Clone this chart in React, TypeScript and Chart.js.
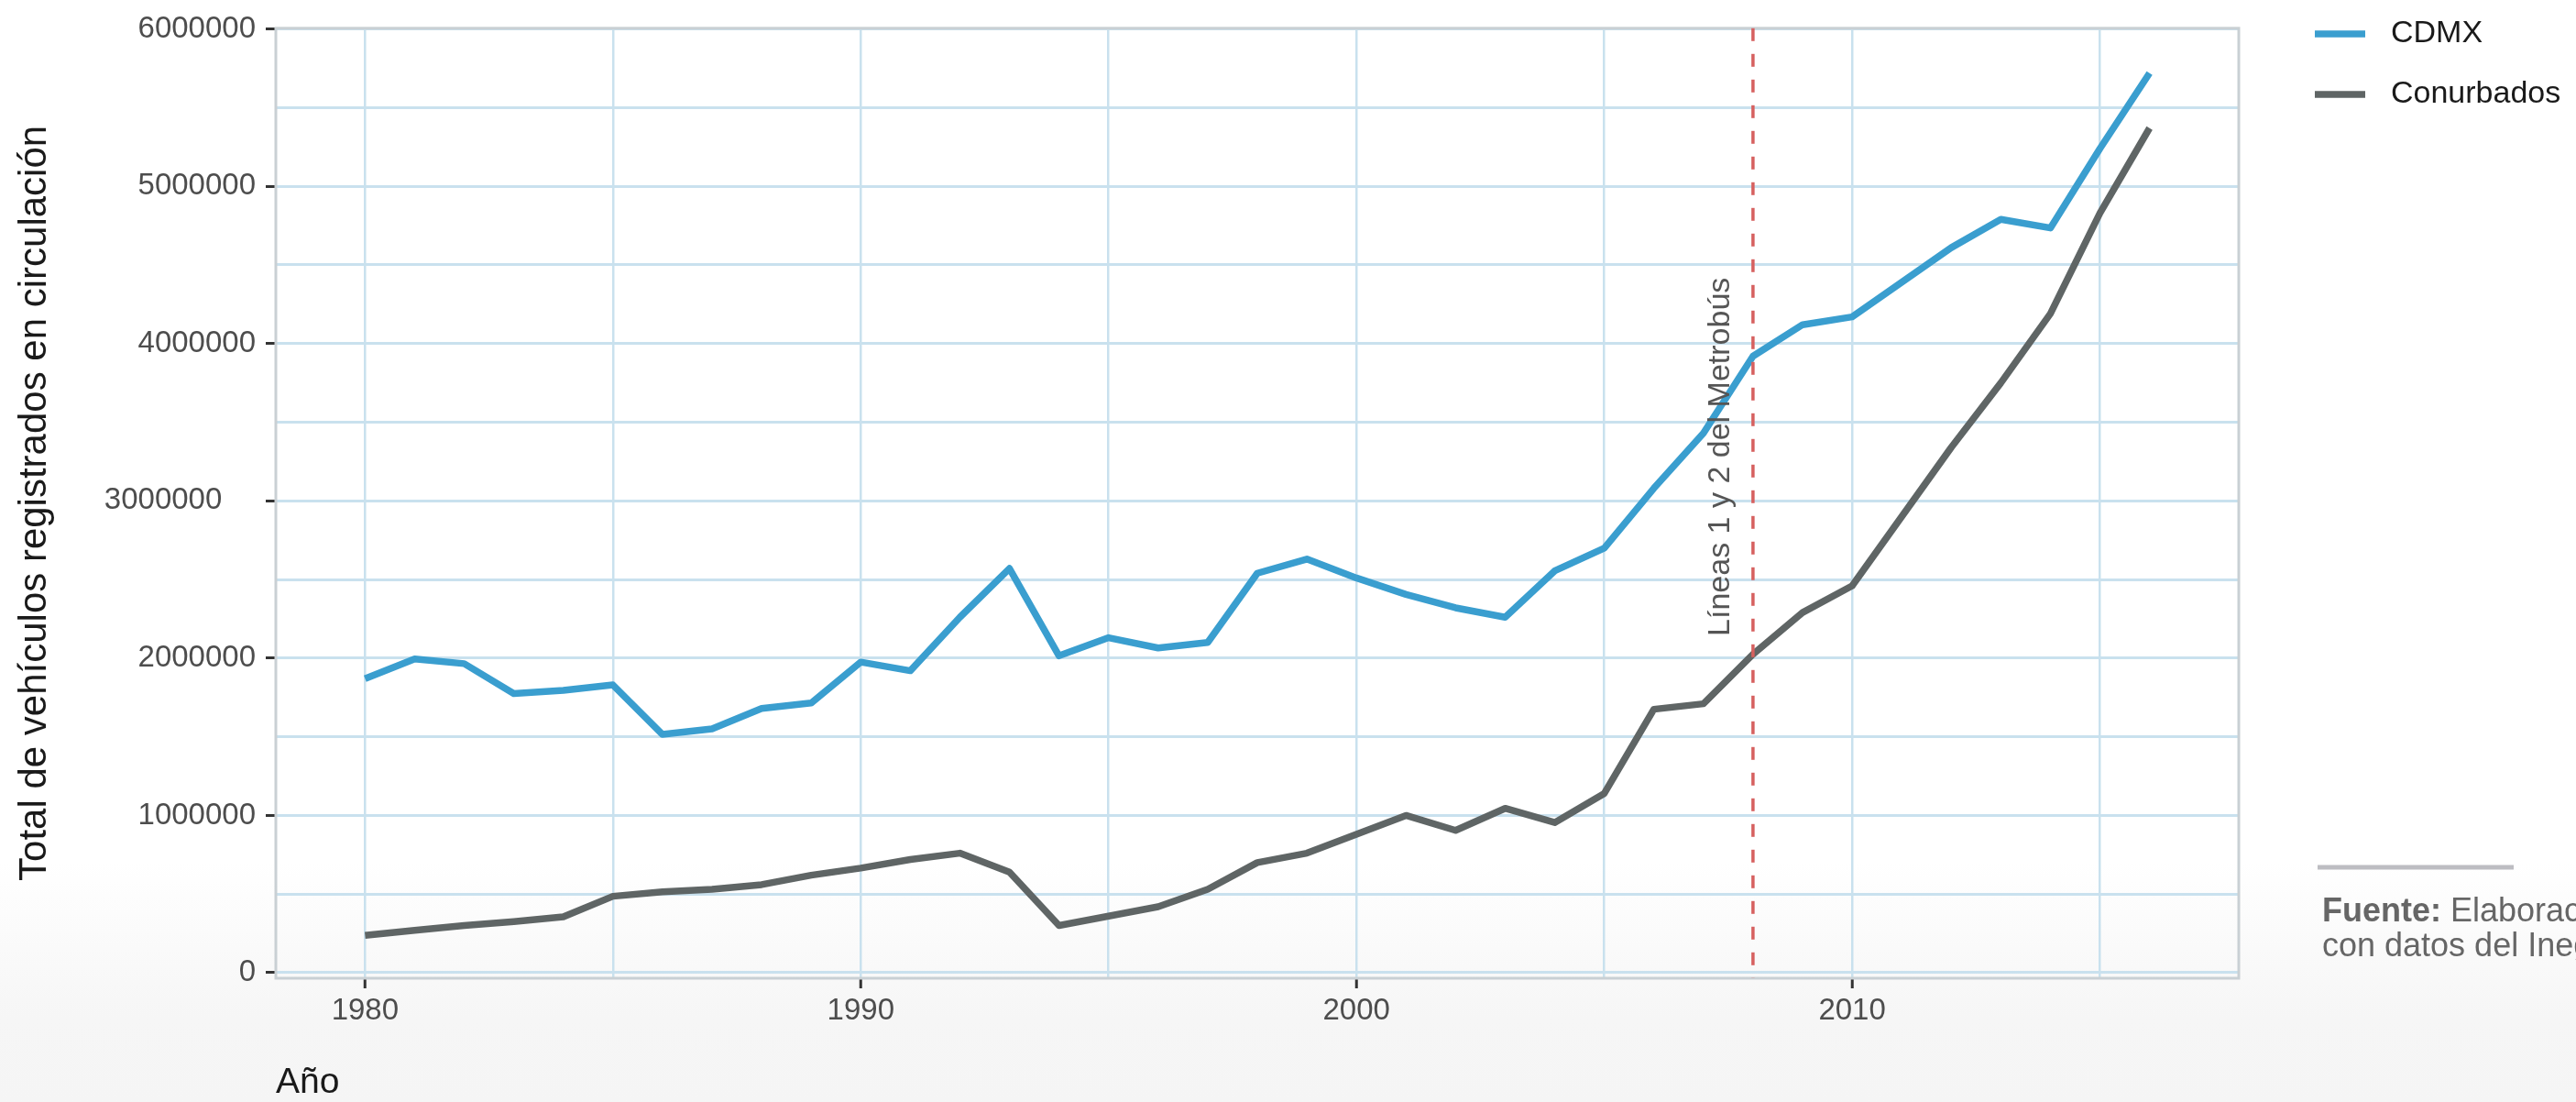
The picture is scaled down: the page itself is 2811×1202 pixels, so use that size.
import React, { useEffect, useRef } from 'react';
import { Chart, registerables } from 'chart.js';

Chart.register(...registerables);

// ---------- data ----------
const years = [
  1980, 1981, 1982, 1983, 1984, 1985, 1986, 1987, 1988, 1989,
  1990, 1991, 1992, 1993, 1994, 1995, 1996, 1997, 1998, 1999,
  2000, 2001, 2002, 2003, 2004, 2005, 2006, 2007, 2008, 2009,
  2010, 2011, 2012, 2013, 2014, 2015, 2016,
];

const cdmx = [
  1870000, 1995000, 1965000, 1775000, 1795000, 1830000, 1515000, 1550000, 1680000, 1715000,
  1975000, 1920000, 2260000, 2570000, 2015000, 2130000, 2065000, 2100000, 2540000, 2630000,
  2510000, 2405000, 2320000, 2260000, 2555000, 2700000, 3080000, 3430000, 3920000, 4120000,
  4170000, 4390000, 4610000, 4790000, 4735000, 5240000, 5720000,
];

const conurbados = [
  237000, 270000, 300000, 325000, 356000, 486000, 515000, 530000, 560000, 620000,
  665000, 720000, 760000, 640000, 300000, 360000, 420000, 530000, 700000, 760000,
  880000, 1000000, 905000, 1045000, 955000, 1140000, 1675000, 1710000, 2025000, 2290000,
  2460000, 2900000, 3340000, 3750000, 4190000, 4830000, 5370000,
];

const seriesNames = ['CDMX', 'Conurbados'];

const xGridYears = [1980, 1985, 1990, 1995, 2000, 2005, 2010, 2015];
const xTickYears = [1980, 1990, 2000, 2010];
const xTickLabels = ['1980', '1990', '2000', '2010'];

const yGridValues = [
  0, 500000, 1000000, 1500000, 2000000, 2500000, 3000000,
  3500000, 4000000, 4500000, 5000000, 5500000, 6000000,
];
const yTickValues = [0, 1000000, 2000000, 3000000, 4000000, 5000000, 6000000];
const yTickLabels = ['0', '1000000', '2000000', '3000000    ', '4000000', '5000000', '6000000'];

const xTitle = 'Año';
const yTitle = 'Total de vehículos registrados en circulación';

const metrobusYear = 2008;
const annotationText = 'Líneas 1 y 2 del Metrobús';
const annotationX = 2007.35;
const annotationY = 3280000;

const captionBold = 'Fuente:';
const captionLine1 = ' Elaboración propia';
const captionLine2 = 'con datos del Inegi.';

// ---------- styles ----------
const FONT = '"Liberation Sans", Arial, Helvetica, sans-serif';
const BLUE = '#3a9ecf';
const GRAY = '#5f6565';
const GRID = '#c9e1ee';
const LINE_W = 7.5;

const overlayPlugin = {
  id: 'overlayPlugin',
  beforeDatasetsDraw(chart: any) {
    const { ctx, chartArea: a } = chart;
    ctx.save();
    ctx.strokeStyle = '#c9d0d4';
    ctx.lineWidth = 3;
    ctx.strokeRect(a.left, a.top, a.right - a.left, a.bottom - a.top);
    ctx.restore();
  },
  afterDatasetsDraw(chart: any) {
    const { ctx, chartArea: a, scales } = chart;
    const xs = scales.x;
    const ys = scales.y;
    const px = xs.getPixelForValue(metrobusYear);
    ctx.save();
    ctx.strokeStyle = '#d6605f';
    ctx.lineWidth = 3.5;
    ctx.setLineDash([14, 14]);
    ctx.beginPath();
    ctx.moveTo(px, a.top);
    ctx.lineTo(px, a.bottom);
    ctx.stroke();
    ctx.setLineDash([]);
    ctx.translate(xs.getPixelForValue(annotationX), ys.getPixelForValue(annotationY));
    ctx.rotate(-Math.PI / 2);
    ctx.font = `34px ${FONT}`;
    ctx.fillStyle = '#555555';
    ctx.textAlign = 'center';
    ctx.textBaseline = 'middle';
    ctx.fillText(annotationText, 0, 0);
    ctx.restore();
  },
  afterDraw(chart: any) {
    const { ctx, chartArea: a } = chart;
    const colors = [BLUE, GRAY];
    ctx.save();
    // legend
    seriesNames.forEach((name, i) => {
      const yy = 37 + i * 66;
      ctx.strokeStyle = colors[i];
      ctx.lineWidth = LINE_W;
      ctx.lineCap = 'butt';
      ctx.beginPath();
      ctx.moveTo(a.right + 83, yy);
      ctx.lineTo(a.right + 138, yy);
      ctx.stroke();
      ctx.font = `34px ${FONT}`;
      ctx.fillStyle = '#1a1a1a';
      ctx.textAlign = 'left';
      ctx.textBaseline = 'middle';
      ctx.fillText(name, a.right + 166, yy);
    });
    // caption
    ctx.strokeStyle = '#bdbdc2';
    ctx.lineWidth = 5;
    ctx.beginPath();
    ctx.moveTo(a.right + 86, 946);
    ctx.lineTo(a.right + 300, 946);
    ctx.stroke();
    ctx.textAlign = 'left';
    ctx.textBaseline = 'alphabetic';
    ctx.fillStyle = '#666666';
    ctx.font = `bold 36px ${FONT}`;
    const x0 = a.right + 91;
    ctx.fillText(captionBold, x0, 1005);
    const w = ctx.measureText(captionBold).width;
    ctx.font = `36px ${FONT}`;
    ctx.fillText(captionLine1, x0 + w, 1005);
    ctx.fillText(captionLine2, x0, 1043);
    ctx.restore();
  },
};

export default function App() {
  const ref = useRef<HTMLCanvasElement>(null);

  useEffect(() => {
    document.body.style.margin = '0';
    const canvas = ref.current;
    if (!canvas) return;
    const chart = new Chart(canvas, {
      type: 'line',
      data: {
        datasets: [
          {
            label: seriesNames[0],
            data: years.map((yr, i) => ({ x: yr, y: cdmx[i] })),
            borderColor: BLUE,
            backgroundColor: BLUE,
            borderWidth: LINE_W,
            pointRadius: 0,
            tension: 0,
            borderCapStyle: 'butt',
            borderJoinStyle: 'round',
          },
          {
            label: seriesNames[1],
            data: years.map((yr, i) => ({ x: yr, y: conurbados[i] })),
            borderColor: GRAY,
            backgroundColor: GRAY,
            borderWidth: LINE_W,
            pointRadius: 0,
            tension: 0,
            borderCapStyle: 'butt',
            borderJoinStyle: 'round',
          },
        ],
      },
      options: {
        animation: false,
        responsive: false,
        devicePixelRatio: 1,
        layout: { padding: { left: 0, top: 23, right: 368, bottom: 0 } },
        plugins: {
          legend: { display: false },
          tooltip: { enabled: false },
        },
        scales: {
          x: {
            type: 'linear',
            min: 1978.2,
            max: 2017.8,
            afterBuildTicks: (s: any) => {
              s.ticks = xGridYears.map((v) => ({ value: v }));
            },
            afterFit: (s: any) => {
              s.height = 135;
            },
            border: { display: false },
            grid: {
              color: GRID,
              lineWidth: 2.5,
              drawTicks: true,
              tickLength: 11,
              tickWidth: 3,
              tickColor: (c: any) =>
                c.tick && xTickYears.includes(c.tick.value) ? '#333333' : 'rgba(0,0,0,0)',
            },
            ticks: {
              autoSkip: false,
              maxRotation: 0,
              padding: 5,
              color: '#4d4d4d',
              font: { family: FONT, size: 33 },
              callback: (v: any) => {
                const i = xTickYears.indexOf(Number(v));
                return i >= 0 ? xTickLabels[i] : '';
              },
            },
            title: {
              display: true,
              text: xTitle,
              align: 'start',
              color: '#1a1a1a',
              font: { family: FONT, size: 39, lineHeight: 1 },
              padding: { top: 0, bottom: 1 },
            },
          },
          y: {
            type: 'linear',
            min: -35000,
            max: 6005000,
            afterBuildTicks: (s: any) => {
              s.ticks = yGridValues.map((v) => ({ value: v }));
            },
            afterFit: (s: any) => {
              s.width = 301;
            },
            border: { display: false },
            grid: {
              color: GRID,
              lineWidth: 3,
              drawTicks: true,
              tickLength: 11,
              tickWidth: 3,
              tickColor: (c: any) =>
                c.tick && yTickValues.includes(c.tick.value) ? '#333333' : 'rgba(0,0,0,0)',
            },
            ticks: {
              autoSkip: false,
              padding: 11,
              color: '#4d4d4d',
              font: { family: FONT, size: 33 },
              callback: (v: any) => {
                const i = yTickValues.indexOf(Number(v));
                return i >= 0 ? yTickLabels[i] : '';
              },
            },
            title: {
              display: true,
              text: yTitle,
              color: '#1a1a1a',
              font: { family: FONT, size: 42, lineHeight: 1.2 },
              padding: { top: 13, bottom: 0 },
            },
          },
        },
      },
      plugins: [overlayPlugin],
    } as any);
    return () => chart.destroy();
  }, []);

  return (
    <div
      style={{
        position: 'relative',
        width: 2811,
        height: 1202,
        overflow: 'hidden',
        background:
          'linear-gradient(180deg, #ffffff 0px, #ffffff 940px, #f6f6f6 1110px, #f5f5f5 1202px)',
      }}
    >
      <canvas ref={ref} width={2811} height={1202} style={{ display: 'block' }} />
    </div>
  );
}
